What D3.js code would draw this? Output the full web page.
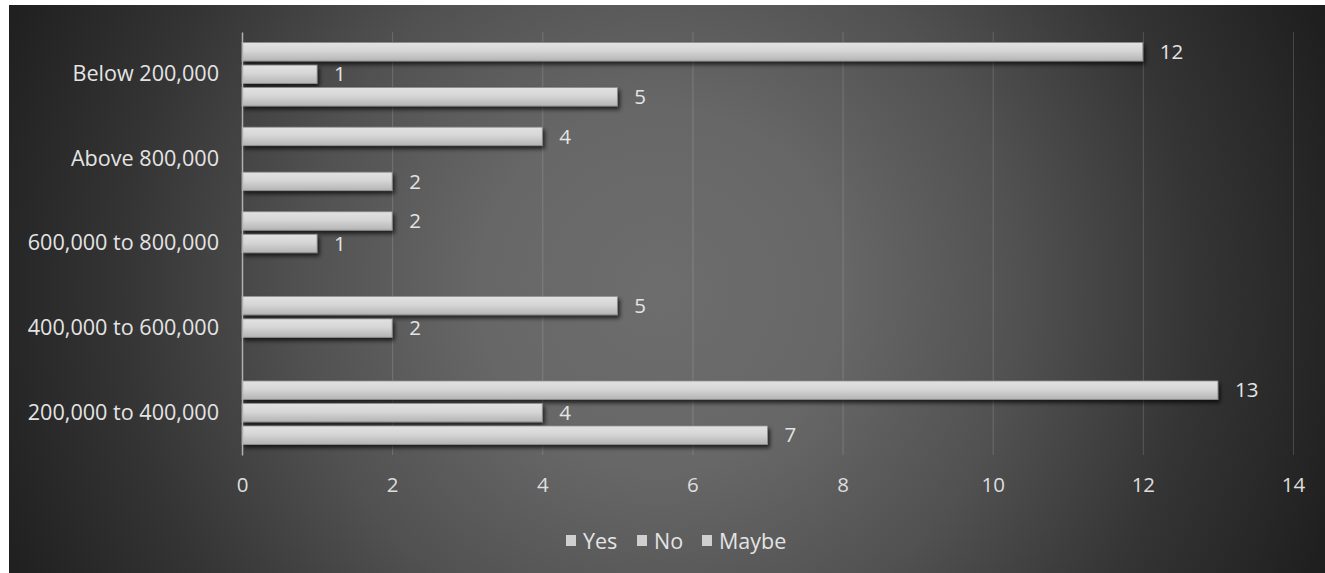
<!DOCTYPE html>
<html><head><meta charset="utf-8">
<script src="https://cdn.jsdelivr.net/npm/d3@7"></script>
<style>html,body{margin:0;padding:0;background:#fff;}svg{display:block;}</style>
</head><body>
<svg id="c" width="1325" height="573"></svg>
<script>
const categories = ["Below 200,000","Above 800,000","600,000 to 800,000","400,000 to 600,000","200,000 to 400,000"];
const seriesNames = ["Yes","No","Maybe"];
const yesValues = [12,4,2,5,13];
const noValues = [1,null,1,2,4];
const maybeValues = [5,2,null,null,7];
const xTicks = [0,2,4,6,8,10,12,14];

const seriesValues = {Yes: yesValues, No: noValues, Maybe: maybeValues};
const font = "'Open Sans','Noto Sans',sans-serif";
const svg = d3.select("#c");
const defs = svg.append("defs");

const bg = defs.append("radialGradient").attr("id","bg").attr("gradientUnits","userSpaceOnUse")
  .attr("cx",660).attr("cy",290).attr("r",720);
[[0,"#6d6d6d"],[0.25,"#676767"],[0.5,"#515151"],[0.75,"#343434"],[1,"#1e1e1e"]]
  .forEach(([o,c])=>bg.append("stop").attr("offset",o).attr("stop-color",c));

const bar = defs.append("linearGradient").attr("id","bar").attr("x1",0).attr("y1",0).attr("x2",0).attr("y2",1);
[[0,"#e2e2e2"],[0.45,"#d6d6d6"],[1,"#b4b4b4"]].forEach(([o,c])=>bar.append("stop").attr("offset",o).attr("stop-color",c));

const f = defs.append("filter").attr("id","sh").attr("x","-5%").attr("y","-50%").attr("width","115%").attr("height","250%");
f.append("feDropShadow").attr("dx",2).attr("dy",3).attr("stdDeviation",2).attr("flood-color","#000").attr("flood-opacity",0.7);

svg.append("rect").attr("x",9).attr("y",5).attr("width",1316).attr("height",568).attr("fill","url(#bg)");

const x = d3.scaleLinear().domain([0,14]).range([242,1293]);
const y = d3.scaleBand().domain(categories).range([32,455]);
const bw = y.bandwidth();
const y1 = d3.scaleBand().domain(seriesNames).range([(bw-63.45)/2,(bw+63.45)/2]).paddingInner(0.18);

// gridlines
svg.append("g").selectAll("line").data(xTicks.filter(t=>t>0)).join("line")
  .attr("x1",d=>x(d)+0.5).attr("x2",d=>x(d)+0.5).attr("y1",32).attr("y2",455)
  .attr("stroke","rgba(255,255,255,0.16)").attr("stroke-width",1);

// x axis tick labels
const xa = svg.append("g").attr("transform","translate(0,485)").call(d3.axisBottom(x).tickValues(xTicks).tickSize(0).tickPadding(0));
xa.select(".domain").remove();
xa.selectAll("text").attr("fill","#dedede").attr("font-size",20.5).attr("font-family",font).attr("dy","0.35em").attr("y",0);

// bars
const rows = [];
categories.forEach((c,i)=>seriesNames.forEach(s=>{ const v=seriesValues[s][i]; if(v!=null) rows.push({c,s,v}); }));
svg.append("g").selectAll("rect").data(rows).join("rect")
  .attr("x",x(0)).attr("y",d=>y(d.c)+y1(d.s)).attr("width",d=>x(d.v)-x(0)).attr("height",y1.bandwidth())
  .attr("fill","url(#bar)").attr("stroke","#8e8e8e").attr("stroke-width",0.8).attr("filter","url(#sh)");

// y axis
const ya = svg.append("g").attr("transform","translate(242,0)").call(d3.axisLeft(y).tickSize(0).tickPadding(23));
ya.select(".domain").attr("stroke","#b0b0b0").attr("stroke-width",1.5);
ya.selectAll("text").attr("fill","#e4e4e4").attr("font-size",21.6).attr("font-family",font);

// data labels
svg.append("g").selectAll("text").data(rows).join("text")
  .attr("x",d=>x(d.v)+17).attr("y",d=>y(d.c)+y1(d.s)+y1.bandwidth()/2).attr("dy","0.35em")
  .attr("fill","#e4e4e4").attr("font-size",20.5).attr("font-family",font).text(d=>d.v);

// legend
const legX = {Yes:566, No:637, Maybe:702};
const lg = svg.append("g");
seriesNames.forEach(s=>{
  lg.append("rect").attr("x",legX[s]).attr("y",535).attr("width",10).attr("height",11).attr("fill","#cfcfcf");
  lg.append("text").attr("x",legX[s]+17).attr("y",541).attr("dy","0.35em").attr("fill","#e4e4e4")
    .attr("font-size",21.5).attr("font-family",font).text(s);
});
</script>
</body></html>
